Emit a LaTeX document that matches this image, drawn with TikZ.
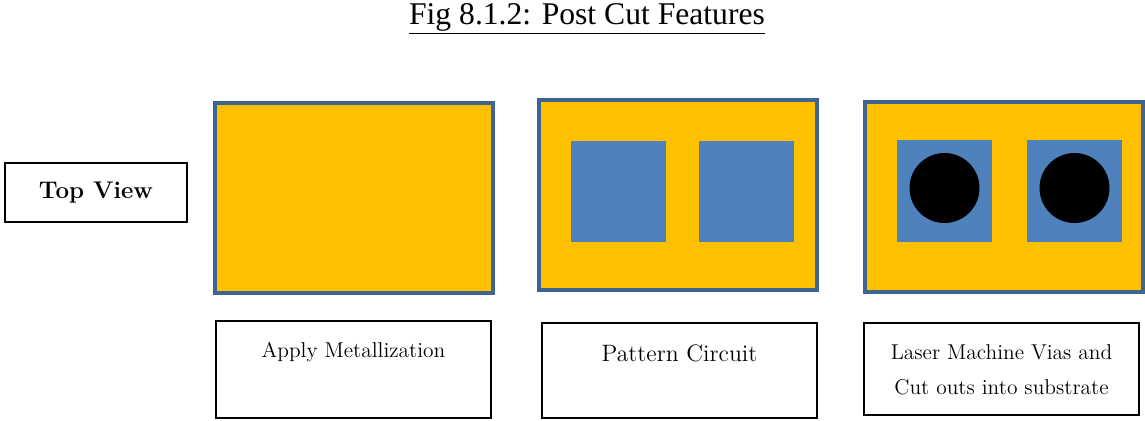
\documentclass[tikz,border=0pt]{standalone}
\usepackage{fontspec}
\newfontfamily\titlefont{Liberation Serif}
\usepackage{tikz}
\usetikzlibrary{positioning}
\definecolor{metal}{HTML}{FFC000}
\definecolor{pad}{HTML}{4F81BD}
\definecolor{edge}{HTML}{3E6591}
\tikzset{
  board/.style={draw=edge,line width=1.8pt,fill=metal},
  padsq/.style={fill=pad},
  via/.style={fill=black},
  stepbox/.style={draw=black,line width=1.1pt,fill=white},
  steptext/.style={font=\fontsize{12.2}{14}\selectfont,inner sep=0pt}
}
\begin{document}
\begin{tikzpicture}[x=0.02cm,y=-0.02cm]
  \useasboundingbox (0,0) rectangle (1145,420);
  % ---- title ----
  \node[font=\titlefont\fontsize{18}{22}\selectfont,inner sep=1pt] (title) at (587,19)
    {\underline{Fig 8.1.2: Post Cut Features}};
  % ---- side label ----
  \draw[line width=1.1pt] (5,163) rectangle (187,222);
  \node[font=\bfseries\fontsize{13.7}{16}\selectfont] (top) at (96,192.5) {Top View};
  % ---- step 1: metallization ----
  \draw[board] (215,103) rectangle (493,293);
  \draw[stepbox] (216,321) rectangle (491,418);
  \node[steptext] (lab1) at (353.5,352) {Apply Metallization};
  % ---- step 2: circuit pattern ----
  \draw[board] (539,100) rectangle (817,290);
  \foreach \x in {571,699} {
    \fill[padsq] (\x,141) rectangle (\x+95,242);
  }
  \draw[stepbox] (542,323) rectangle (817,418);
  \node[steptext,font=\fontsize{13.5}{16}\selectfont] (lab2) at (679.5,353) {Pattern Circuit};
  % ---- step 3: vias and cut outs ----
  \draw[board] (865,102) rectangle (1143,292);
  \foreach \x in {897,1027} {
    \fill[padsq] (\x,140) rectangle (\x+95,242);
    \fill[via] (\x+47.5,188) circle (35);
  }
  \draw[stepbox] (864,323) rectangle (1139,415);
  \node[steptext] (lab3a) at (1001.5,352) {Laser Machine Vias and};
  \node[steptext,below=20pt of lab3a.base,anchor=base] (lab3b) {Cut outs into substrate};
\end{tikzpicture}
\end{document}
